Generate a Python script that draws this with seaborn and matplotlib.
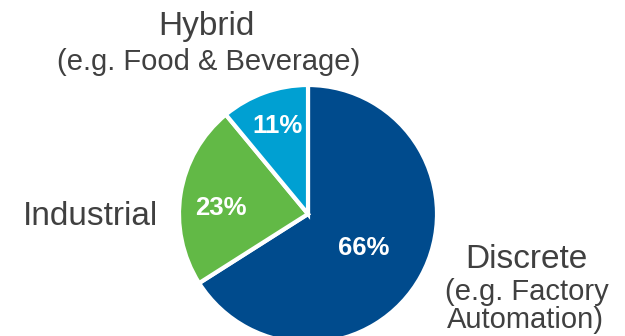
import matplotlib
matplotlib.use("Agg")
import matplotlib.pyplot as plt
import seaborn as sns

categories = ["Discrete", "Industrial", "Hybrid"]
shares = [66, 23, 11]
colors = ["#004B8D", "#62B946", "#00A0D2"]
pct_labels = ["66%", "23%", "11%"]

sns.set_theme(style="white")
plt.rcParams['font.family'] = ['Liberation Sans', 'DejaVu Sans']

W, H = 625, 336
fig = plt.figure(figsize=(W / 100, H / 100), dpi=100)
ax = fig.add_axes([0, 0, 1, 1])

cx, cy, r = 308, H - 214, 129
wedges, _ = ax.pie(shares, colors=colors, startangle=90, counterclock=False,
                   center=(cx, cy), radius=r, frame=True,
                   wedgeprops=dict(edgecolor="white", linewidth=3))
ax.set_xlim(0, W)
ax.set_ylim(0, H)
ax.set_aspect("equal")
ax.axis("off")

pct_pos = [(364, 255), (221, 215), (277, 133)]
for txt, (x, y) in zip(pct_labels, pct_pos):
    ax.text(x, H - y, txt, color="white", fontsize=18.5, fontweight="bold",
            ha="center", va="baseline")

gray = "#404040"
big, small = 24, 21
ax.text(206, H - 35, "Hybrid", fontsize=big, color=gray, ha="center", va="baseline")
ax.text(209, H - 70, "(e.g. Food & Beverage)", fontsize=small, color=gray, ha="center", va="baseline")
ax.text(90, H - 225, "Industrial", fontsize=big, color=gray, ha="center", va="baseline")
ax.text(526, H - 268, "Discrete", fontsize=big, color=gray, ha="center", va="baseline")
ax.text(527, H - 300, "(e.g. Factory", fontsize=small, color=gray, ha="center", va="baseline")
ax.text(525, H - 328, "Automation)", fontsize=small, color=gray, ha="center", va="baseline")

fig.savefig("out.png", dpi=100)
